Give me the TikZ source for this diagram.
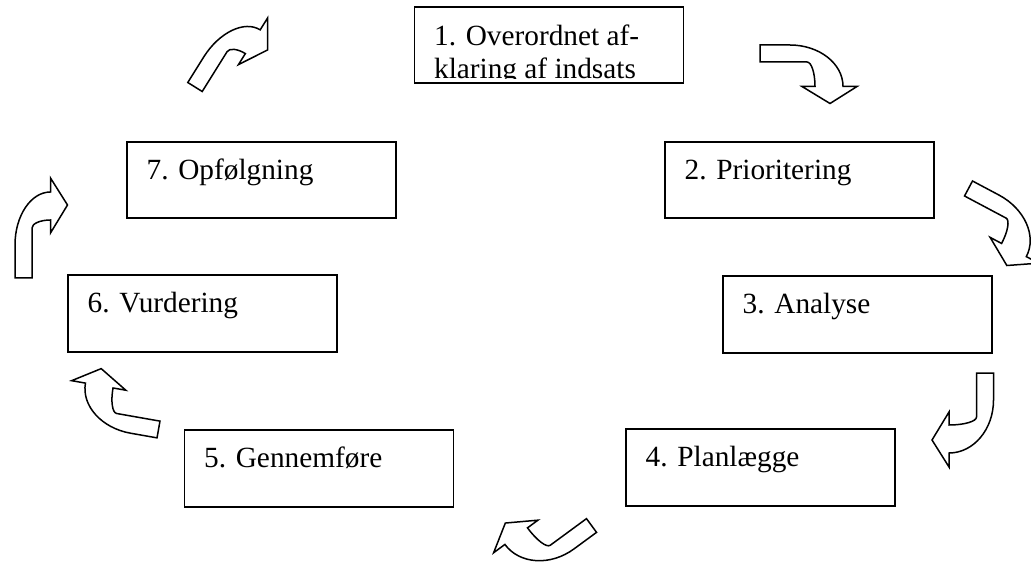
\documentclass[tikz,border=0pt]{standalone}
\usepackage{fontspec}
\setmainfont{Liberation Serif}
\usepackage{tikz}

\newcommand{\bentarrow}[5]{%
\begin{scope}[shift={(#1,#2)},rotate=#3]
\draw[blockarrow] (-8.5,0) -- (-8.5,#4)
  arc[start angle=180,end angle=90,x radius=#5+8.5,y radius=53]
  -- ++(0,14) -- (#5+17,#4+40) -- (#5,#4+12) -- (#5,#4+25)
  arc[start angle=90,end angle=180,x radius=#5-8.5,y radius=8]
  -- (8.5,0) -- cycle;
\end{scope}}

\begin{document}
\begin{tikzpicture}[x=0.5pt,y=0.5pt,
  stepbox/.style={draw,line width=0.8pt,minimum width=134.5pt,minimum height=38.25pt,inner sep=0pt},
  steptext/.style={anchor=base west,inner sep=0pt,font=\fontsize{14.65pt}{17pt}\selectfont},
  blockarrow/.style={draw,fill=white,line width=0.75pt,line join=miter}]
\useasboundingbox (0,0) rectangle (1031,562);
\clip (0,0) rectangle (1031,562);

\node[stepbox] (box1) at (549,517) {};
\node[stepbox] (box2) at (799.5,382) {};
\node[stepbox] (box3) at (857.5,247.5) {};
\node[stepbox] (box4) at (760.5,94.5) {};
\node[stepbox] (box5) at (319,93.5) {};
\node[stepbox] (box6) at (202.5,248.5) {};
\node[stepbox] (box7) at (261.5,382) {};

% text of box 1 is cut off at the bottom
\begin{scope}
\clip (415,483.5) rectangle (683,555);
\node[steptext] (lbl1a) at ([shift={(20,-40)}]box1.north west) {1. Overordnet af-};
\node[steptext] (lbl1b) at ([shift={(20,-73)}]box1.north west) {klaring af indsats};
\end{scope}
\node[steptext] (lbl2) at ([shift={(20,-38.5)}]box2.north west) {2. Prioritering};
\node[steptext] (lbl3) at ([shift={(20,-38.5)}]box3.north west) {3. Analyse};
\node[steptext] (lbl4) at ([shift={(20,-38.5)}]box4.north west) {4. Planlægge};
\node[steptext] (lbl5) at ([shift={(20,-38.5)}]box5.north west) {5. Gennemføre};
\node[steptext] (lbl6) at ([shift={(20,-38.5)}]box6.north west) {6. Vurdering};
\node[steptext] (lbl7) at ([shift={(20,-38.5)}]box7.north west) {7. Opfølgning};

\bentarrow{195}{475}{-32}{30}{25}
\bentarrow{760}{508.5}{-90}{30}{33}
\bentarrow{968.5}{373.5}{-118}{30}{33}
\bentarrow{985}{189}{180}{27}{36}
\bentarrow{591.5}{36.5}{126.3}{28}{36}
\bentarrow{158.5}{132.5}{80}{27}{33}
\bentarrow{23.5}{284}{0}{33}{27}
\end{tikzpicture}
\end{document}
